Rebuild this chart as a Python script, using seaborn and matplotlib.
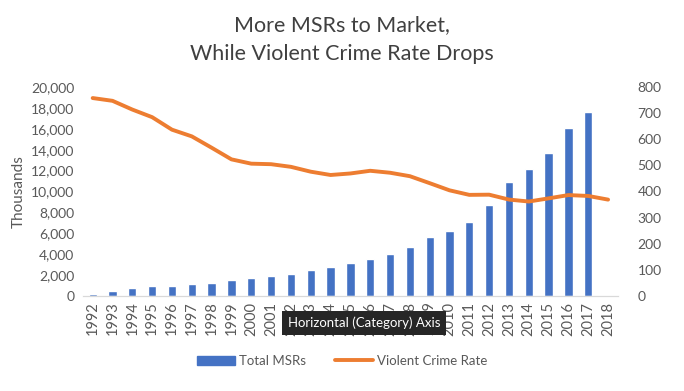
import numpy as np
import pandas as pd
import seaborn as sns
import matplotlib.pyplot as plt
from matplotlib.patches import Patch
from matplotlib.lines import Line2D

years = [str(y) for y in range(1992, 2019)]
msrs = [200, 480, 770, 960, 960, 1150, 1250, 1540, 1730, 1920, 2110, 2500,
        2790, 3190, 3540, 4050, 4690, 5650, 6220, 7080, 8710, 10910, 12150,
        13680, 16080, 17600, np.nan]
crime = [757.7, 747.1, 713.6, 684.5, 636.6, 611.0, 567.6, 523.0, 506.5, 504.5,
         494.4, 475.8, 463.2, 469.0, 479.3, 471.8, 458.6, 431.9, 404.5, 387.1,
         387.8, 369.1, 361.6, 373.7, 386.3, 382.9, 368.9]

df = pd.DataFrame({"Year": years, "Total MSRs": msrs, "Violent Crime Rate": crime})
df["pos"] = np.arange(len(df))

sns.set_style("white")
plt.rcParams["font.family"] = ["Lato", "DejaVu Sans"]

blue = "#4472C4"
orange = "#ED7D31"
grey = "#595959"

fig, ax = plt.subplots(figsize=(6.84, 3.91), dpi=100)
fig.subplots_adjust(left=0.121, right=0.9035, bottom=0.243, top=0.7775)

sns.barplot(data=df, x="Year", y="Total MSRs", color=blue, width=0.42,
            saturation=1, errorbar=None, ax=ax)
ax2 = ax.twinx()
sns.lineplot(data=df, x="pos", y="Violent Crime Rate", color=orange,
             linewidth=2.8, ax=ax2)

ax.set_xlim(-0.5, len(df) - 0.5)
ax.set_ylim(0, 20000)
ax2.set_ylim(0, 800)
ax.set_yticks(range(0, 20001, 2000))
ax.set_yticklabels([f"{v:,}" for v in range(0, 20001, 2000)])
ax2.set_yticks(range(0, 801, 100))

ax.set_xlabel("")
ax.set_ylabel("Thousands", color=grey, fontsize=11)
ax2.set_ylabel("")
ax.tick_params(axis="x", rotation=90, labelsize=10.5, colors=grey, length=0, pad=4)
ax.tick_params(axis="y", labelsize=10, colors=grey, length=0, pad=6)
ax2.tick_params(axis="y", labelsize=10, colors=grey, length=0, pad=14)

for a in (ax, ax2):
    for s in ["top", "left", "right"]:
        a.spines[s].set_visible(False)
    a.spines["bottom"].set_color("#D9D9D9")

fig.suptitle("More MSRs to Market,\nWhile Violent Crime Rate Drops",
             fontsize=15.5, color="#404040", y=0.962, linespacing=1.55)

handles = [Patch(color=blue), Line2D([0], [0], color=orange, linewidth=2.8)]
fig.legend(handles, ["Total MSRs", "Violent Crime Rate"], loc="center",
           bbox_to_anchor=(0.5, 0.077), ncol=2, frameon=False, fontsize=9.5,
           labelcolor=grey, handlelength=2.9, handletextpad=0.3, columnspacing=2.2)

fig.text(0.532, 0.174, "Horizontal (Category) Axis", color="white", fontsize=9.5,
         ha="center", va="center", zorder=10,
         bbox=dict(boxstyle="square,pad=0.45", facecolor="#262626", edgecolor="none"))

plt.savefig("out.png", dpi=100)
